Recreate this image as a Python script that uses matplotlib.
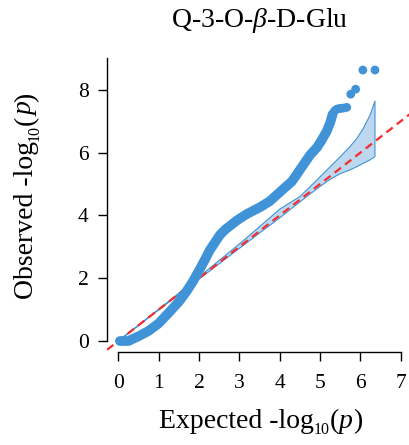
import matplotlib
matplotlib.use("Agg")
import matplotlib.pyplot as plt

# ---- data ----
# dense part of the observed curve (centre line of the overlapping points)
dense_expected = [0.04, 0.25, 0.50, 0.75, 1.00, 1.25, 1.50, 1.69, 1.85, 2.02, 2.15,
                  2.27, 2.40, 2.52, 2.65, 2.77, 2.95, 3.18, 3.51, 3.75, 3.95, 4.14,
                  4.30, 4.43, 4.60, 4.75, 4.92, 5.04, 5.16, 5.25, 5.31]
dense_observed = [0.00, 0.00, 0.15, 0.32, 0.56, 0.90, 1.25, 1.58, 1.90, 2.29, 2.60,
                  2.90, 3.15, 3.38, 3.55, 3.67, 3.85, 4.04, 4.26, 4.45, 4.68, 4.90,
                  5.08, 5.32, 5.64, 5.92, 6.16, 6.40, 6.67, 6.95, 7.22]
# separate top points
top_expected = [5.36, 5.41, 5.46, 5.52, 5.58, 5.66, 5.76, 5.88, 6.06, 6.36]
top_observed = [7.33, 7.38, 7.40, 7.41, 7.42, 7.44, 7.86, 8.02, 8.63, 8.63]

# confidence band
ci_expected = [0.00, 1.00, 2.00, 3.00, 3.50, 4.00, 4.50, 4.75, 5.00, 5.25, 5.50,
               5.74, 5.91, 6.07, 6.24, 6.36]
ci_upper = [0.00, 1.01, 2.04, 3.09, 3.64, 4.20, 4.60, 4.91, 5.23, 5.55, 5.87,
            6.19, 6.45, 6.77, 7.20, 7.64]
ci_lower = [0.00, 0.99, 1.97, 2.95, 3.44, 3.92, 4.43, 4.68, 4.92, 5.15, 5.33,
            5.45, 5.55, 5.66, 5.77, 5.87]

x_ticks = [0, 1, 2, 3, 4, 5, 6, 7]
y_ticks = [0, 2, 4, 6, 8]
title = r"Q-3-O-$\beta$-D-Glu"
xlabel_parts = ["Expected -log", "10", "(", "p", ")"]
ylabel_parts = ["Observed -log", "10", "(", "p", ")"]

# ---- style ----
plt.rcParams["font.family"] = ["Liberation Serif", "DejaVu Serif"]
plt.rcParams["mathtext.fontset"] = "custom"
plt.rcParams["mathtext.rm"] = "Liberation Serif"
plt.rcParams["mathtext.it"] = "Liberation Serif:italic"
plt.rcParams["mathtext.bf"] = "Liberation Serif:bold"

BLUE = "#4193D8"
W, H = 409, 445
fig = plt.figure(figsize=(W / 100, H / 100), dpi=100)
ax = fig.add_axes([107 / W, (H - 352.3) / H, 305.1 / W, 305.2 / H])
ax.set_xlim(-0.28, 7.28)
ax.set_ylim(-0.36, 9.36)

# band
ax.fill_between(ci_expected, ci_lower, ci_upper, facecolor="#BDD7EE",
                edgecolor="none", zorder=1)
band_x = ci_expected + ci_expected[::-1] + [ci_expected[0]]
band_y = ci_upper + ci_lower[::-1] + [ci_upper[0]]
ax.plot(band_x, band_y, color=BLUE, lw=0.8, zorder=2)

# reference line
ax.axline((0, 0), slope=1, color="#F42C2C", lw=1.6, dashes=(3.6, 2.3), zorder=3)

# observed points
ax.plot(dense_expected, dense_observed, color=BLUE, lw=7.0,
        solid_capstyle="round", solid_joinstyle="round", zorder=4)
ax.scatter(top_expected, top_observed, s=40, color=BLUE, edgecolor="none", zorder=5)

# axes styling (R-like)
for s in ["top", "right"]:
    ax.spines[s].set_visible(False)
ax.spines["left"].set_bounds(0, 9)
ax.spines["bottom"].set_bounds(0, 7)
for s in ["left", "bottom"]:
    ax.spines[s].set_linewidth(1.0)
ax.set_xticks(x_ticks)
ax.set_yticks(y_ticks)
ax.tick_params(axis="both", direction="out", length=6.8, width=1.0,
               labelsize=15.5, color="black")
ax.tick_params(axis="x", pad=8.5)
ax.tick_params(axis="y", pad=6.5)

fig.text(260 / W, 1 - 27 / H, title, ha="center", va="baseline", fontsize=20)


def styled(parts):
    """font size, style and baseline shift (px) for each label piece"""
    out = []
    for i, p in enumerate(parts):
        if i == 1:
            out.append((p, 11.5, "normal", -6.0))
        elif i == 3:
            out.append((p, 20, "italic", 0.0))
        else:
            out.append((p, 20, "normal", 0.0))
    return out


def draw_label(parts, centre_px, baseline_px, vertical=False):
    renderer = fig.canvas.get_renderer()
    items = []
    for text, size, style, shift in styled(parts):
        t = fig.text(0, 0, text, fontsize=size, fontstyle=style,
                     ha="left", va="baseline",
                     rotation=90 if vertical else 0, rotation_mode="anchor")
        bb = t.get_window_extent(renderer)
        items.append((t, bb.height if vertical else bb.width, shift))
    total = sum(w for _, w, _ in items)
    pos = centre_px - total / 2
    for t, w, shift in items:
        if vertical:
            t.set_position(((baseline_px - shift) / W, pos / H))
        else:
            t.set_position((pos / W, (H - baseline_px + shift) / H))
        pos += w


draw_label(xlabel_parts, 260.5, 428)
draw_label(ylabel_parts, H - 196, 33, vertical=True)

fig.savefig("out.png", dpi=100)
